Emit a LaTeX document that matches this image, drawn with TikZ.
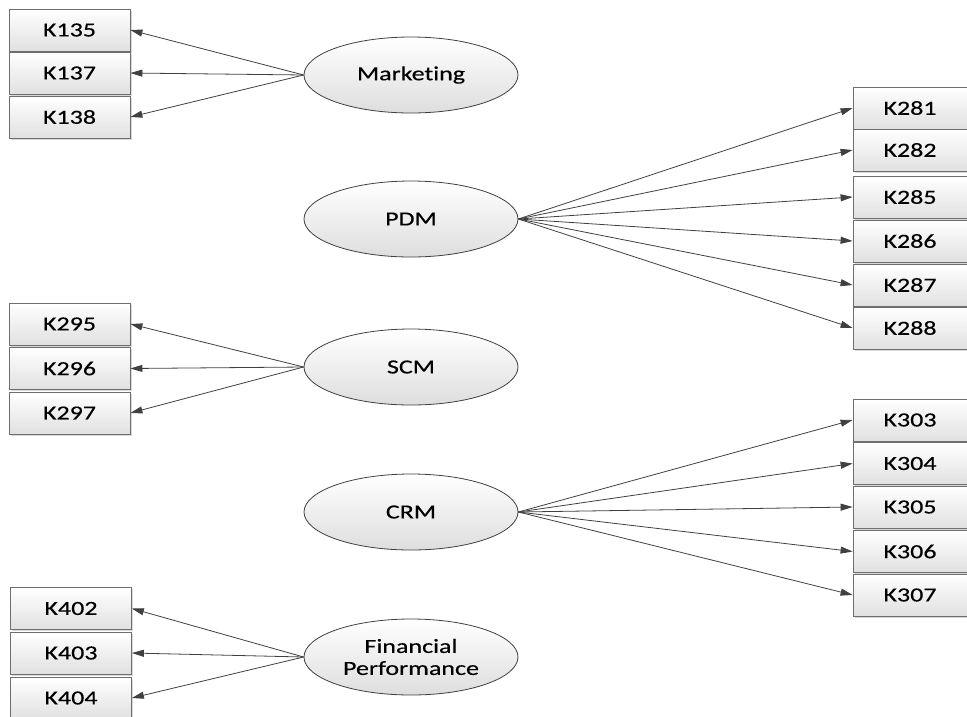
\documentclass[tikz,border=0pt]{standalone}
\usepackage{fontspec}
\setmainfont[FakeStretch=1.3,FakeBold=0.4,Ligatures=NoCommon]{Carlito}
\usetikzlibrary{arrows.meta,shadows,shapes.geometric}

\definecolor{edge}{HTML}{404040}
\definecolor{boxline}{HTML}{6E6E6E}

\tikzset{
  indicator/.style={rectangle, draw=boxline, line width=0.8pt,
    top color=white, bottom color=black!12,
    minimum width=121pt, minimum height=42pt, inner sep=0pt,
    font=\fontsize{20}{22}\selectfont,
    drop shadow={shadow xshift=1.5pt, shadow yshift=-1.5pt, opacity=0.25, fill=black!60}},
  indicatorR/.style={indicator, minimum width=114pt},
  construct/.style={ellipse, draw=edge, line width=0.8pt,
    top color=white, bottom color=black!13,
    minimum width=214pt, minimum height=76pt, inner sep=0pt,
    align=center, font=\fontsize{20}{22}\selectfont},
  load/.style={draw=edge, line width=0.8pt,
    -{Triangle[length=12pt,width=7pt]}}
}

\begin{document}
\begin{tikzpicture}[x=1pt,y=-1pt]
\useasboundingbox (0,0) rectangle (967,716);
\clip (0,0) rectangle (967,716);

% latent constructs
\node[construct] (mkt) at (411,75)  {Marketing};
\node[construct] (pdm) at (411,219) {PDM};
\node[construct] (scm) at (411,367) {SCM};
\node[construct] (crm) at (411,512) {CRM};
\node[construct] (fin) at (411,657) {Financial\\Performance};

% Marketing indicators
\node[indicator] (k135) at (69.5,30)  {K135};
\node[indicator] (k137) at (69.5,73)  {K137};
\node[indicator] (k138) at (69.5,117) {K138};

% PDM indicators
\node[indicatorR] (k281) at (910,108) {K281};
\node[indicatorR] (k282) at (910,150) {K282};
\node[indicatorR] (k285) at (910,197) {K285};
\node[indicatorR] (k286) at (910,241) {K286};
\node[indicatorR] (k287) at (910,285) {K287};
\node[indicatorR] (k288) at (910,328) {K288};

% SCM indicators
\node[indicator] (k295) at (69.5,324)   {K295};
\node[indicator] (k296) at (69.5,368.5) {K296};
\node[indicator] (k297) at (69.5,413)   {K297};

% CRM indicators
\node[indicatorR] (k303) at (910,420)   {K303};
\node[indicatorR] (k304) at (910,463.5) {K304};
\node[indicatorR] (k305) at (910,507)   {K305};
\node[indicatorR] (k306) at (910,551.5) {K306};
\node[indicatorR] (k307) at (910,595)   {K307};

% Financial Performance indicators
\node[indicator] (k402) at (71,608.5) {K402};
\node[indicator] (k403) at (71,653)   {K403};
\node[indicator] (k404) at (71,698)   {K404};

% loadings
\foreach \k in {k135,k137,k138} \draw[load] (mkt.west) -- (\k.east);
\foreach \k in {k281,k282,k285,k286,k287,k288} \draw[load] (pdm.east) -- (\k.west);
\foreach \k in {k295,k296,k297} \draw[load] (scm.west) -- (\k.east);
\foreach \k in {k303,k304,k305,k306,k307} \draw[load] (crm.east) -- (\k.west);
\foreach \k in {k402,k403,k404} \draw[load] (fin.west) -- (\k.east);
\end{tikzpicture}
\end{document}
